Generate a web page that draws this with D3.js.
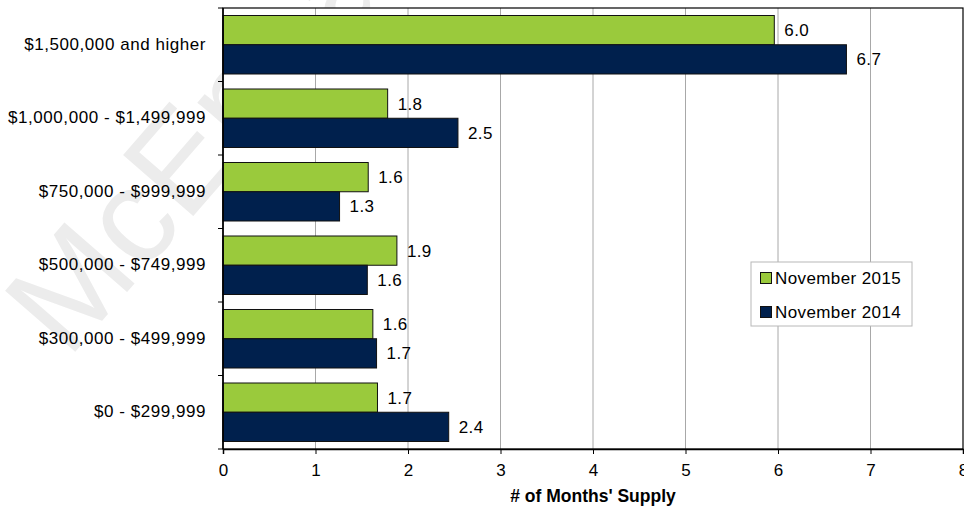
<!DOCTYPE html>
<html>
<head>
<meta charset="utf-8">
<script src="https://cdn.jsdelivr.net/npm/d3@7"></script>
<style>
    html, body { margin: 0; padding: 0; background: #fff; }
    svg { display: block; }
    text { font-family: "Liberation Sans", Arial, sans-serif; fill: #000; }
</style>
</head>
<body>
<div id="chart"></div>
<script>

var categories = [
    "$1,500,000 and higher",
    "$1,000,000 - $1,499,999",
    "$750,000 - $999,999",
    "$500,000 - $749,999",
    "$300,000 - $499,999",
    "$0 - $299,999"
];
var seriesNames = ["November 2015", "November 2014"];
var nov2015 = [5.96, 1.78, 1.57, 1.88, 1.62, 1.67];
var nov2014 = [6.74, 2.54, 1.26, 1.56, 1.66, 2.44];
var xTicks = [0, 1, 2, 3, 4, 5, 6, 7, 8];

var colors = ["#9aca3c", "#00204d"];

var width = 964, height = 506;
var plot = {left: 223, right: 963, top: 8, bottom: 449};

var svg = d3.select("#chart").append("svg")
    .attr("width", width)
    .attr("height", height);

// faint watermark behind everything
svg.append("text")
    .attr("transform", "translate(68,360) rotate(-49)")
    .style("font-size", "135px")
    .style("fill", "#ececec")
    .text("McEnearney");

var x = d3.scaleLinear()
    .domain([0, 8])
    .range([plot.left, plot.right]);

var y = d3.scaleBand()
    .domain(categories)
    .range([plot.top, plot.bottom])
    .paddingInner(0.204)
    .paddingOuter(0.102);

var ySub = d3.scaleBand()
    .domain(seriesNames)
    .range([0, y.bandwidth()]);

var bandEdges = d3.scaleBand()
    .domain(categories)
    .range([plot.top, plot.bottom]);

svg.append("rect")
    .attr("x", plot.left)
    .attr("y", plot.top)
    .attr("width", plot.right - plot.left)
    .attr("height", plot.bottom - plot.top)
    .attr("fill", "#fff");

// gridlines
svg.append("g").selectAll("line")
    .data(xTicks.slice(1, -1))
    .join("line")
    .attr("x1", function(d){ return x(d); })
    .attr("x2", function(d){ return x(d); })
    .attr("y1", plot.top)
    .attr("y2", plot.bottom)
    .attr("stroke", "#a8a8a8")
    .attr("stroke-width", 1);

var rows = categories.map(function(c, i){
    return {cat: c, values: [nov2015[i], nov2014[i]]};
});

var groups = svg.append("g").selectAll("g")
    .data(rows)
    .join("g")
    .attr("transform", function(d){ return "translate(0," + y(d.cat) + ")"; });

groups.selectAll("rect")
    .data(function(d){
        return d.values.map(function(v, j){ return {name: seriesNames[j], value: v, j: j}; });
    })
    .join("rect")
    .attr("x", x(0))
    .attr("y", function(d){ return ySub(d.name); })
    .attr("width", function(d){ return x(d.value) - x(0); })
    .attr("height", ySub.bandwidth())
    .attr("fill", function(d){ return colors[d.j]; })
    .attr("stroke", "#111")
    .attr("stroke-width", 1);

groups.selectAll("text.val")
    .data(function(d){
        return d.values.map(function(v, j){ return {name: seriesNames[j], value: v}; });
    })
    .join("text")
    .attr("class", "val")
    .attr("x", function(d){ return x(d.value) + 10; })
    .attr("y", function(d){ return ySub(d.name) + ySub.bandwidth() / 2; })
    .attr("dy", "0.35em")
    .style("font-size", "17px")
    .style("letter-spacing", "0.4px")
    .text(function(d){ return d3.format(".1f")(d.value); });

// frame
svg.append("rect")
    .attr("x", plot.left)
    .attr("y", plot.top)
    .attr("width", plot.right - plot.left)
    .attr("height", plot.bottom - plot.top)
    .attr("fill", "none")
    .attr("stroke", "#000")
    .attr("stroke-width", 1.2);

// x axis
var xAxis = svg.append("g")
    .attr("transform", "translate(0," + plot.bottom + ")")
    .call(d3.axisBottom(x).tickValues(xTicks).tickSize(5).tickPadding(10).tickFormat(d3.format("d")));
xAxis.select(".domain").attr("stroke", "#000").attr("stroke-width", 1.5);
xAxis.selectAll("text")
    .style("font-size", "17px")
    .style("font-family", "Liberation Sans, Arial, sans-serif");

// y axis: ticks sit on the band edges
var yAxis = svg.append("g")
    .attr("transform", "translate(" + plot.left + ",0)");
yAxis.append("line")
    .attr("y1", plot.top)
    .attr("y2", plot.bottom)
    .attr("stroke", "#000")
    .attr("stroke-width", 1.5);
yAxis.selectAll("line.tick")
    .data(categories.concat(["end"]))
    .join("line")
    .attr("class", "tick")
    .attr("x1", -5)
    .attr("x2", 0)
    .attr("y1", function(d, i){ return i < categories.length ? bandEdges(d) : plot.bottom; })
    .attr("y2", function(d, i){ return i < categories.length ? bandEdges(d) : plot.bottom; })
    .attr("stroke", "#000");
yAxis.selectAll("text")
    .data(categories)
    .join("text")
    .attr("x", -17)
    .attr("y", function(d){ return bandEdges(d) + bandEdges.bandwidth() / 2; })
    .attr("dy", "0.3em")
    .attr("text-anchor", "end")
    .style("font-size", "17px")
    .style("letter-spacing", "0.55px")
    .text(function(d){ return d; });

svg.append("text")
    .attr("x", (plot.left + plot.right) / 2)
    .attr("y", 502)
    .attr("text-anchor", "middle")
    .style("font-size", "17.5px")
    .style("font-weight", "bold")
    .text("# of Months' Supply");

// legend
var legend = svg.append("g").attr("transform", "translate(751,262)");
legend.append("rect")
    .attr("width", 161)
    .attr("height", 64)
    .attr("fill", "#fff")
    .attr("stroke", "#b8b8b8");
var items = legend.selectAll("g")
    .data(seriesNames)
    .join("g")
    .attr("transform", function(d, i){ return "translate(9," + (16 + i * 34) + ")"; });
items.append("rect")
    .attr("x", 0.5)
    .attr("y", -5.5)
    .attr("width", 11)
    .attr("height", 11)
    .attr("fill", function(d, i){ return colors[i]; })
    .attr("stroke", "#111");
items.append("text")
    .attr("x", 15)
    .attr("dy", "0.35em")
    .style("font-size", "17px")
    .style("letter-spacing", "0.4px")
    .text(function(d){ return d; });

</script>
</body>
</html>
